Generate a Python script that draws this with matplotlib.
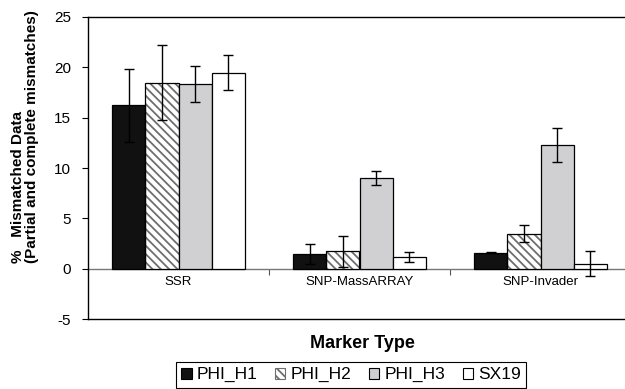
import numpy as np
import matplotlib
matplotlib.use("Agg")
import matplotlib.pyplot as plt
from matplotlib.patches import Patch

plt.rcParams['font.family'] = ['Liberation Sans', 'DejaVu Sans']
plt.rcParams['hatch.linewidth'] = 1.3
plt.rcParams['axes.unicode_minus'] = False

# Data
categories = ['SSR', 'SNP-MassARRAY', 'SNP-Invader']
series = ['PHI_H1', 'PHI_H2', 'PHI_H3', 'SX19']
phi_h1 = [16.2, 1.5, 1.6]
phi_h2 = [18.45, 1.75, 3.5]
phi_h3 = [18.3, 9.0, 12.25]
sx19 = [19.45, 1.15, 0.5]
err_h1 = [3.65, 1.0, 0.07]
err_h2 = [3.7, 1.55, 0.8]
err_h3 = [1.8, 0.7, 1.7]
err_sx = [1.75, 0.5, 1.25]

values = [phi_h1, phi_h2, phi_h3, sx19]
errors = [err_h1, err_h2, err_h3, err_sx]
faces = ['#111111', 'white', '#d0d0d2', 'white']
hatches = [None, '\\\\\\\\', None, None]
hatch_col = '#6e6e6e'

fig = plt.figure(figsize=(6.25, 3.89), dpi=100)
# axes right edge runs past the image edge, like the original crop
ax = fig.add_axes([88 / 625, 1 - 319.3 / 389, 543 / 625, 302.6 / 389])

x = np.arange(len(categories))
w = 0.183
offsets = (np.arange(len(series)) - 1.5) * w

for i in range(len(series)):
    xs = x + offsets[i]
    if hatches[i]:
        ax.bar(xs, values[i], w, color='white', edgecolor=hatch_col,
               hatch=hatches[i], linewidth=0, zorder=2)
        ax.bar(xs, values[i], w, fill=False, edgecolor='black',
               linewidth=0.9, zorder=3)
    else:
        ax.bar(xs, values[i], w, color=faces[i], edgecolor='black',
               linewidth=0.9, zorder=3)
    ax.errorbar(xs, values[i], yerr=errors[i], fmt='none', ecolor='black',
                elinewidth=1, capsize=3.5, capthick=1, zorder=4)

ax.set_xlim(-0.5, len(categories) - 0.5)
ax.set_ylim(-5, 25)
ax.set_yticks(np.arange(-5, 26, 5))
ax.tick_params(axis='y', labelsize=11, length=4, width=0.8, pad=8)
ax.tick_params(axis='x', bottom=False, labelbottom=False)
for s in ax.spines.values():
    s.set_linewidth(1.0)

# category axis crossing at zero
ymin, ymax = ax.get_ylim()
sec = ax.secondary_xaxis((0 - ymin) / (ymax - ymin))
sec.set_xticks(x)
sec.set_xticklabels(categories, fontsize=9.5)
sec.set_xticks(x[:-1] + 0.5, minor=True)
sec.tick_params(axis='x', which='major', length=0, pad=5)
sec.tick_params(axis='x', which='minor', length=4, width=0.8, color='#555555')
sec.spines['bottom'].set_color('#777777')
sec.spines['bottom'].set_linewidth(1.0)

fig.text(0.040, 1 - 263 / 389,
         '%   Mismatched Data\n(Partial and complete mismatches)',
         rotation=90, ha='center', va='bottom', multialignment='left',
         fontsize=11, fontweight='bold', linespacing=1.05)
fig.text(362 / 625, 1 - 344 / 389, 'Marker Type', ha='center', va='center',
         fontsize=13, fontweight='bold')

handles = [Patch(facecolor=faces[i], edgecolor='black' if i != 1 else hatch_col,
                 hatch=hatches[i], linewidth=0.8) for i in range(len(series))]
leg = fig.legend(handles, series, loc='upper left',
                 bbox_to_anchor=(176 / 625, 1 - 362 / 389), borderaxespad=0,
                 ncol=4, fontsize=12.5, handlelength=0.6, handleheight=0.6,
                 handletextpad=0.3, columnspacing=1.0, borderpad=0.3,
                 fancybox=False, framealpha=1, edgecolor='black')
leg.get_frame().set_linewidth(0.8)

fig.savefig('out.png', dpi=100, facecolor='white')
